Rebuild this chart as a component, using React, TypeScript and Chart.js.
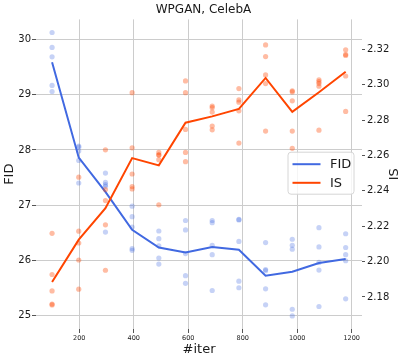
import React, { useEffect, useRef } from "react";
import { Chart, registerables } from "chart.js";

Chart.register(...registerables);

// ---- data ----
const iters = [100, 198, 296, 394, 492, 590, 688, 786, 884, 982, 1080, 1178];

const fidMean = [29.59, 27.86, 27.24, 26.55, 26.23, 26.14, 26.24, 26.19, 25.72, 25.79, 25.95, 26.02];
const isMean = [2.1885, 2.2124, 2.2302, 2.2585, 2.2544, 2.2785, 2.2821, 2.2863, 2.3038, 2.2846, 2.2957, 2.3073];

const fidRuns = [
  [30.13, 29.86, 29.69, 29.17, 29.06],
  [28.07, 28.05, 27.98, 27.81, 27.4],
  [27.58, 27.41, 27.37, 27.34, 26.51],
  [26.98, 26.79, 26.6, 26.21, 26.18],
  [26.53, 26.39, 26.26, 26.04, 25.93],
  [26.72, 26.55, 26.12, 25.72, 25.58],
  [26.72, 26.68, 26.27, 26.1, 25.45],
  [26.74, 26.73, 26.34, 25.62, 25.5],
  [26.32, 25.83, 25.81, 25.48, 25.19],
  [26.38, 26.27, 26.2, 25.11, 24.99],
  [26.59, 26.24, 25.96, 25.82, 25.16],
  [26.48, 26.23, 26.1, 25.99, 25.3],
];

const isRuns = [
  [2.216, 2.1927, 2.1834, 2.176, 2.1755],
  [2.2477, 2.2172, 2.2105, 2.2009, 2.1844],
  [2.2632, 2.2407, 2.2345, 2.2208, 2.1951],
  [2.2955, 2.2643, 2.2495, 2.2424, 2.2411],
  [2.2617, 2.2604, 2.2602, 2.2576, 2.2321],
  [2.3021, 2.2955, 2.2747, 2.2617, 2.2565],
  [2.2879, 2.287, 2.2845, 2.2766, 2.2745],
  [2.2978, 2.2914, 2.2901, 2.2852, 2.267],
  [2.3225, 2.3159, 2.3055, 2.3006, 2.2738],
  [2.2965, 2.2959, 2.2909, 2.2738, 2.264],
  [2.3028, 2.3017, 2.3006, 2.2991, 2.2743],
  [2.3197, 2.3171, 2.3165, 2.3049, 2.2849],
];

const iterTicks = [200, 400, 600, 800, 1000, 1200];
const fidTicks = [25, 26, 27, 28, 29, 30];
const isTicks = [2.18, 2.2, 2.22, 2.24, 2.26, 2.28, 2.3, 2.32];

const chartTitle = "WPGAN, CelebA";
const xTitle = "#iter";
const fidLabel = "FID";
const isLabel = "IS";

// ---- styles ----
const FONT = "'DejaVu Sans', 'Liberation Sans', sans-serif";
const FID_COLOR = "#4169e1";
const IS_COLOR = "#ff4500";
const FID_DOT = "rgba(65,105,225,0.3)";
const IS_DOT = "rgba(255,69,0,0.36)";
const GRID = "#cccccc";
const TICK = "#555555";
const TEXT = "#1a1a1a";

export default function App() {
  const ref = useRef<HTMLCanvasElement>(null);

  useEffect(() => {
    if (!ref.current) return;
    const toPts = (ys: number[]) => ys.map((y, i) => ({ x: iters[i], y }));
    const runPts = (runs: number[][]) =>
      runs.flatMap((r, i) => r.map((y) => ({ x: iters[i], y })));

    const rightTitle = {
      id: "rightTitle",
      afterDraw(chart: any) {
        const { ctx, chartArea, width } = chart;
        ctx.save();
        ctx.font = `13px ${FONT}`;
        ctx.fillStyle = TEXT;
        ctx.textAlign = "center";
        ctx.textBaseline = "middle";
        ctx.translate(width - 12, (chartArea.top + chartArea.bottom) / 2);
        ctx.rotate(-Math.PI / 2);
        ctx.fillText(isLabel, 0, 0);
        ctx.restore();
      },
    };

    const legendBox = {
      id: "legendBox",
      afterDraw(chart: any) {
        const { ctx, chartArea } = chart;
        const w = 66;
        const h = 42;
        const x = chartArea.right - 8 - w;
        const y = (chartArea.top + chartArea.bottom) / 2 - h / 2 - 1;
        ctx.save();
        ctx.beginPath();
        const r = 3;
        ctx.moveTo(x + r, y);
        ctx.lineTo(x + w - r, y);
        ctx.arcTo(x + w, y, x + w, y + r, r);
        ctx.lineTo(x + w, y + h - r);
        ctx.arcTo(x + w, y + h, x + w - r, y + h, r);
        ctx.lineTo(x + r, y + h);
        ctx.arcTo(x, y + h, x, y + h - r, r);
        ctx.lineTo(x, y + r);
        ctx.arcTo(x, y, x + r, y, r);
        ctx.closePath();
        ctx.fillStyle = "rgba(255,255,255,0.8)";
        ctx.fill();
        ctx.strokeStyle = "#d6d6d6";
        ctx.lineWidth = 1;
        ctx.stroke();
        const items = [
          { label: fidLabel, color: FID_COLOR },
          { label: isLabel, color: IS_COLOR },
        ];
        items.forEach((it, i) => {
          const cy = y + 12 + i * 18.6;
          ctx.beginPath();
          ctx.moveTo(x + 4.5, cy);
          ctx.lineTo(x + 32.5, cy);
          ctx.strokeStyle = it.color;
          ctx.lineWidth = 2;
          ctx.stroke();
          ctx.font = `13px ${FONT}`;
          ctx.fillStyle = TEXT;
          ctx.textAlign = "left";
          ctx.textBaseline = "middle";
          ctx.fillText(it.label, x + 42, cy + 0.5);
        });
        ctx.restore();
      },
    };

    const chart = new Chart(ref.current, {
      type: "line",
      data: {
        datasets: [
          {
            label: isLabel,
            data: toPts(isMean),
            yAxisID: "yIS",
            borderColor: IS_COLOR,
            backgroundColor: IS_COLOR,
            borderWidth: 2,
            pointRadius: 0,
            tension: 0,
            order: 0,
          },
          {
            type: "scatter",
            label: "IS runs",
            data: runPts(isRuns),
            yAxisID: "yIS",
            backgroundColor: IS_DOT,
            borderWidth: 0,
            pointRadius: 2.6,
            order: 1,
          },
          {
            label: fidLabel,
            data: toPts(fidMean),
            yAxisID: "yFID",
            borderColor: FID_COLOR,
            backgroundColor: FID_COLOR,
            borderWidth: 2,
            pointRadius: 0,
            tension: 0,
            order: 2,
          },
          {
            type: "scatter",
            label: "FID runs",
            data: runPts(fidRuns),
            yAxisID: "yFID",
            backgroundColor: FID_DOT,
            borderWidth: 0,
            pointRadius: 2.6,
            order: 3,
          },
        ] as any,
      },
      options: {
        animation: false,
        responsive: false,
        devicePixelRatio: 1,
        layout: { padding: 0 },
        plugins: {
          legend: { display: false },
          tooltip: { enabled: false },
          title: {
            display: true,
            text: chartTitle,
            color: TEXT,
            font: { family: FONT, size: 12, weight: "normal" },
            padding: { top: 3, bottom: 2 },
          },
        },
        scales: {
          x: {
            type: "linear",
            min: 41,
            max: 1238,
            afterBuildTicks: (s: any) => {
              s.ticks = iterTicks.map((v) => ({ value: v }));
            },
            afterFit: (s: any) => {
              s.height = 32;
            },
            border: { display: false },
            grid: { color: GRID, tickColor: TICK, tickLength: 4, lineWidth: 1 },
            ticks: {
              color: TEXT,
              font: { family: FONT, size: 6.5 },
              padding: 1,
              maxRotation: 0,
              autoSkip: false,
              callback: (v: any) => String(v),
            },
            title: {
              display: true,
              text: xTitle,
              color: TEXT,
              font: { family: FONT, size: 13 },
              padding: { top: 0, bottom: 4 },
            },
          },
          yFID: {
            type: "linear",
            position: "left",
            min: 24.752,
            max: 30.368,
            afterBuildTicks: (s: any) => {
              s.ticks = fidTicks.map((v) => ({ value: v }));
            },
            afterFit: (s: any) => {
              s.width = 36;
            },
            border: { display: false },
            grid: { color: GRID, tickColor: TICK, tickLength: 4, lineWidth: 1 },
            ticks: {
              color: TEXT,
              font: { family: FONT, size: 10 },
              padding: 1,
              callback: (v: any) => String(v),
            },
            title: {
              display: true,
              text: fidLabel,
              color: TEXT,
              font: { family: FONT, size: 13 },
              padding: { top: 2, bottom: 0 },
            },
          },
          yIS: {
            type: "linear",
            position: "right",
            min: 2.1619,
            max: 2.3369,
            afterBuildTicks: (s: any) => {
              s.ticks = isTicks.map((v) => ({ value: v }));
            },
            afterFit: (s: any) => {
              s.width = 45;
            },
            border: { display: false },
            grid: {
              drawOnChartArea: false,
              drawTicks: true,
              tickColor: TICK,
              tickLength: 3,
            },
            ticks: {
              color: TEXT,
              font: { family: FONT, size: 10 },
              padding: 2,
              callback: (v: any) => Number(v).toFixed(2),
            },
          },
        },
      } as any,
      plugins: [rightTitle, legendBox],
    });
    return () => chart.destroy();
  }, []);

  return (
    <div style={{ position: "fixed", left: 0, top: 0, width: 407, height: 361, background: "#fff" }}>
      <canvas ref={ref} width={407} height={361} />
    </div>
  );
}
